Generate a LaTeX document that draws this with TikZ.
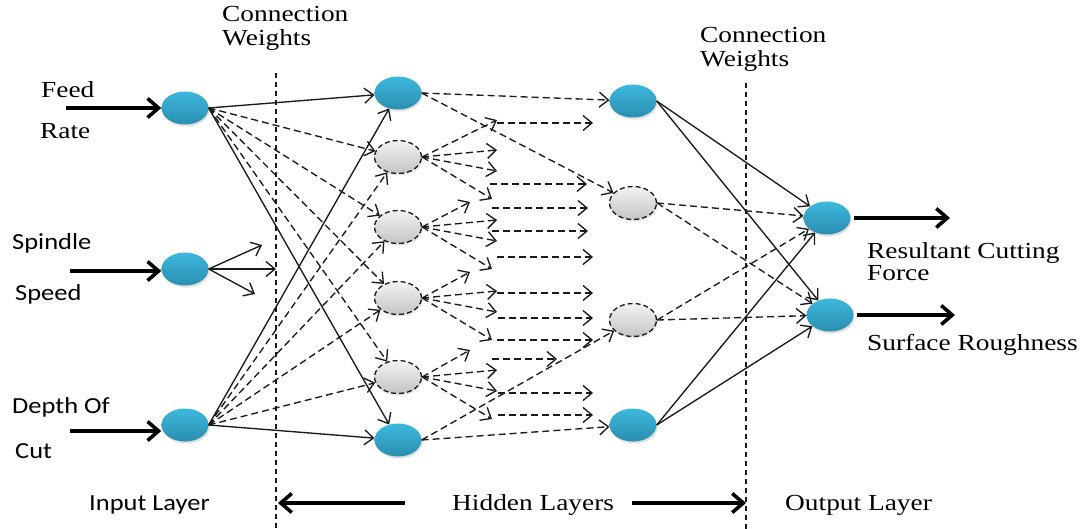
\documentclass[tikz,border=0pt]{standalone}
\usepackage{fontspec}
\setmainfont{Liberation Serif}
\newfontfamily\rmx[FakeStretch=1.19]{Liberation Serif}
\newfontfamily\sfx[FakeStretch=1.15]{Carlito}
\usetikzlibrary{arrows.meta,shapes.geometric,shadows}
\definecolor{bluetop}{HTML}{3DB8DD}
\definecolor{bluebot}{HTML}{2A8EB0}
\definecolor{graytop}{HTML}{F2F2F2}
\definecolor{graybot}{HTML}{C4C4C4}
\definecolor{ink}{HTML}{1A1A1A}
\tikzset{
  neuron/.style={ellipse, minimum width=47pt, minimum height=33pt, inner sep=0pt, draw=none,
    top color=bluetop, bottom color=bluebot,
    drop shadow={opacity=0.25, shadow xshift=1pt, shadow yshift=-2pt}},
  ghost/.style={ellipse, minimum width=47pt, minimum height=33pt, inner sep=0pt, draw=ink,
    dash pattern=on 5pt off 3pt, line width=1.3pt, top color=graytop, bottom color=graybot,
    drop shadow={opacity=0.2, shadow xshift=1pt, shadow yshift=-2pt}},
  link/.style={draw=ink, line width=1.35pt, -{Straight Barb[length=9pt,width=15pt]}},
  wdash/.style={link, dash pattern=on 7pt off 4pt},
  bigarrow/.style={draw=black, line width=3.6pt, -{Straight Barb[length=11pt,width=19pt]}},
  divider/.style={draw=ink, line width=1.3pt, dash pattern=on 5pt off 4pt},
  serlab/.style={font=\rmx\fontsize{23}{24.5}\selectfont, inner sep=0pt, text=black, align=left},
  sanlab/.style={font=\sfx\fontsize{23}{25}\selectfont, inner sep=0pt, text=black, align=left},
}
\begin{document}
\begin{tikzpicture}[x=1pt,y=-1pt]
\useasboundingbox (0,0) rectangle (1081,529);
\fill[white] (0,0) rectangle (1081,529);

% dividers
\coordinate (d1t) at (276,73); \coordinate (d1b) at (276,529);
\coordinate (d2t) at (746,83); \coordinate (d2b) at (746,529);
\draw[divider] (d1t) -- (d1b);
\draw[divider] (d2t) -- (d2b);

% nodes
\node[neuron] (I1) at (185,108) {};
\node[neuron] (I2) at (185,269) {};
\node[neuron] (I3) at (185,425) {};
\node[neuron] (H1) at (398,93) {};
\node[ghost]  (H2) at (398,157) {};
\node[ghost]  (H3) at (398,227) {};
\node[ghost]  (H4) at (398,298) {};
\node[ghost]  (H5) at (398,377) {};
\node[neuron] (H6) at (398,440) {};
\node[neuron] (G1) at (633,101) {};
\node[ghost]  (G2) at (633,203) {};
\node[ghost]  (G3) at (633,320) {};
\node[neuron] (G4) at (633,425) {};
\node[neuron] (O1) at (827,218) {};
\node[neuron] (O2) at (830,315) {};

% input -> hidden 1
\draw[link] (I1.east) -- (H1);
\foreach \t in {H2,H3,H4,H5} \draw[wdash] (I1.east) -- (\t);
\draw[link] (I1.east) -- (H6);
\draw[link] (I3.east) -- (H1);
\foreach \t in {H2,H3,H4,H5} \draw[wdash] (I3.east) -- (\t);
\draw[link] (I3.east) -- (H6);

% spindle short arrows
\coordinate (s1) at (262,245);
\coordinate (s2) at (276,269);
\coordinate (s3) at (255,294);
\foreach \c in {s1,s2,s3} \draw[link] (I2.east) -- (\c);

% fans from ghost nodes of hidden layer 1
\foreach \n/\y/\ux/\uy in {H2/157/497/120, H3/227/470/202, H4/298/470/272, H5/377/470/350} {
  \coordinate (\n-a) at (\ux,\uy);
  \coordinate (\n-b) at (497,\y-7);
  \coordinate (\n-c) at (497,\y+14);
  \coordinate (\n-d) at (492,\y+42);
  \foreach \k in {a,b,c,d} \draw[wdash] (\n.east) -- (\n-\k);
}

% free horizontal dashed arrows
\foreach \i/\xa/\xb/\y in {1/497/593/123, 2/490/587/184, 3/492/588/208, 4/492/588/231,
  5/497/593/257, 6/497/593/293, 7/498/593/318, 8/497/593/340, 9/492/557/359,
  10/498/593/393, 11/498/593/415} {
  \coordinate (p\i) at (\xa,\y);
  \coordinate (q\i) at (\xb,\y);
  \draw[wdash] (p\i) -- (q\i);
}

% hidden 1 -> hidden 2
\draw[wdash] (H1.east) -- (G1);
\draw[wdash] (H1.east) -- (G2);
\draw[wdash] (H6.east) -- (G3);
\draw[wdash] (H6.east) -- (G4);

% hidden 2 -> output
\foreach \s/\st in {G1/link, G2/wdash, G3/wdash, G4/link} {
  \draw[\st] (\s.east) -- (O1);
  \draw[\st] (\s.east) -- (O2);
}

% input arrows
\coordinate (a1) at (66,108);
\coordinate (a2) at (70,271);
\coordinate (a3) at (70,431);
\draw[bigarrow] (a1) -- (I1.west);
\draw[bigarrow] (a2) -- (a2 -| I2.west);
\draw[bigarrow] (a3) -- (a3 -| I3.west);

% output arrows
\coordinate (r1) at (950,218);
\coordinate (r2) at (955,315);
\draw[bigarrow] ([xshift=3pt]O1.east) -- (r1);
\draw[bigarrow] ([xshift=3pt]O2.east) -- (r2);

% labels
\node[serlab, anchor=north west] (cw1) at (222,6) {Connection\\Weights};
\node[serlab, anchor=north west] (cw2) at (700,27) {Connection\\Weights};
\node[serlab, anchor=base west] (feed) at (41,98) {Feed};
\node[serlab, anchor=base west] (rate) at (40,139) {Rate};
\node[sanlab, anchor=base west] (spin) at (12,250) {Spindle};
\node[sanlab, anchor=base west] (speed) at (15,300) {Speed};
\node[sanlab, anchor=base west] (depth) at (12,413) {Depth Of};
\node[sanlab, anchor=base west] (cut) at (15,458) {Cut};
\node[serlab, anchor=north west, font=\rmx\fontsize{23}{22}\selectfont] (rcf) at (867,242) {Resultant Cutting\\Force};
\node[serlab, anchor=base west] (sr) at (867,350) {Surface Roughness};
\node[sanlab, anchor=base west] (inl) at (89,510) {Input Layer};
\node[serlab, anchor=base west] (hid) at (452,510) {Hidden Layers};
\node[serlab, anchor=base west] (outl) at (785,510) {Output Layer};

% bottom arrows
\coordinate (hl) at (405,503); \coordinate (hle) at (278,503);
\coordinate (hr) at (632,503); \coordinate (hre) at (746,503);
\draw[bigarrow] (hl) -- (hle);
\draw[bigarrow] (hr) -- (hre);
\end{tikzpicture}
\end{document}
